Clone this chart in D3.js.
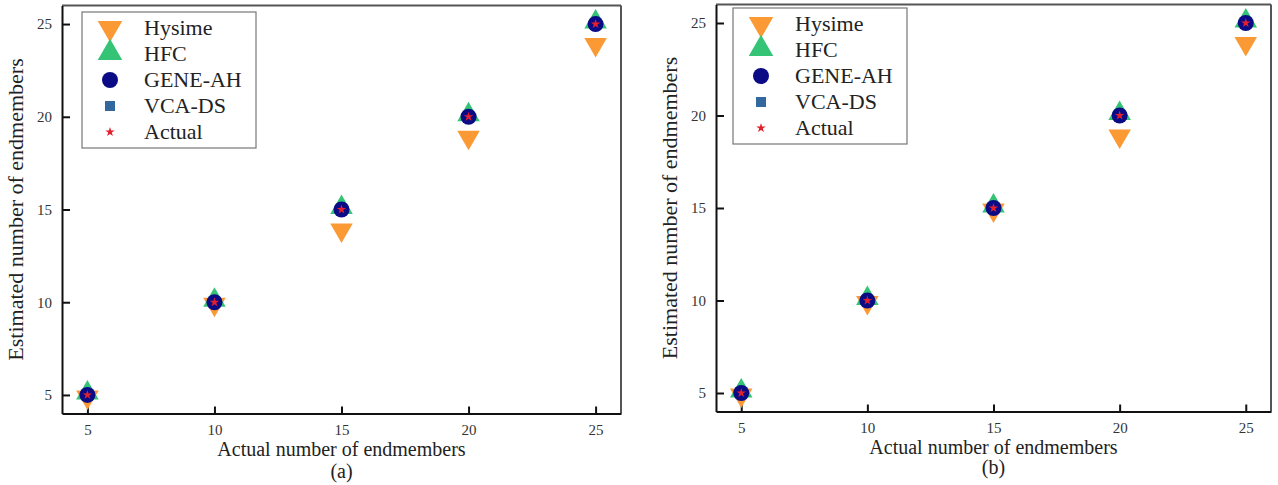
<!DOCTYPE html>
<html>
<head>
<meta charset="utf-8">
<script src="https://cdn.jsdelivr.net/npm/d3@7"></script>
<style>
  body { margin: 0; background: #fff; }
  svg { display: block; font-family: "Liberation Serif", "DejaVu Serif", serif; }
</style>
</head>
<body>
<div class="chart"></div>
<script>
var W = 1278, H = 485;

// data
var actual = [5, 10, 15, 20, 25];
var tickValues = [5, 10, 15, 20, 25];
var seriesNames = ["Hysime", "HFC", "GENE-AH", "VCA-DS", "Actual"];
var hysimeA = [5, 10, 14, 19, 24];
var hfcA = [5, 10, 15, 20, 25];
var geneA = [5, 10, 15, 20, 25];
var vcaA = [5, 10, 15, 20, 25];
var hysimeB = [5, 10, 15, 19, 24];
var hfcB = [5, 10, 15, 20, 25];
var geneB = [5, 10, 15, 20, 25];
var vcaB = [5, 10, 15, 20, 25];

var colors = { "Hysime": "#fb9a35", "HFC": "#35c476", "GENE-AH": "#0b0b85", "VCA-DS": "#33689f", "Actual": "#e2202e" };

var svg = d3.select(".chart").append("svg").attr("width", W).attr("height", H);

var tri = d3.symbol().type(d3.symbolTriangle).size(220);
var star = d3.symbol().type(d3.symbolStar).size(28);

function drawPanel(cfg) {
    var x = d3.scaleLinear().domain([4, 26]).range([cfg.left, cfg.right]);
    var y = d3.scaleLinear().domain([4, 26]).range([cfg.bottom, cfg.top]);
    var g = svg.append("g");

    // frame: top/right grey, left/bottom black
    g.append("line").attr("x1", cfg.left).attr("x2", cfg.right).attr("y1", cfg.top).attr("y2", cfg.top)
        .attr("stroke", "#555").attr("stroke-width", 2);
    g.append("line").attr("x1", cfg.right).attr("x2", cfg.right).attr("y1", cfg.top).attr("y2", cfg.bottom)
        .attr("stroke", "#555").attr("stroke-width", 2);

    var xAxis = g.append("g").attr("transform", `translate(0,${cfg.bottom})`)
        .call(d3.axisBottom(x).tickValues(tickValues).tickSizeInner(-7).tickSizeOuter(0).tickPadding(11));
    var yAxis = g.append("g").attr("transform", `translate(${cfg.left},0)`)
        .call(d3.axisLeft(y).tickValues(tickValues).tickSizeInner(-8).tickSizeOuter(0).tickPadding(10));
    [xAxis, yAxis].forEach(function(a) {
        a.select(".domain").attr("stroke", "#111").attr("stroke-width", 2);
        a.selectAll(".tick line").attr("stroke", "#111").attr("stroke-width", 2);
        a.selectAll(".tick text").attr("fill", "#333").style("font-size", "15px")
            .style("font-family", "Liberation Serif");
    });

    // markers, drawn in legend order
    var pts = function(vals) { return vals.map(function(v, i) { return { x: actual[i], y: v }; }); };
    g.selectAll(".hys").data(pts(cfg.hysime)).enter().append("path")
        .attr("d", tri)
        .attr("transform", function(d) { return `translate(${x(d.x)},${y(d.y) + 2}) rotate(180)`; })
        .attr("fill", colors["Hysime"]);
    g.selectAll(".hfc").data(pts(cfg.hfc)).enter().append("path")
        .attr("d", tri)
        .attr("transform", function(d) { return `translate(${x(d.x)},${y(d.y) - 2})`; })
        .attr("fill", colors["HFC"]);
    g.selectAll(".vca").data(pts(cfg.vca)).enter().append("rect")
        .attr("x", function(d) { return x(d.x) - 5; }).attr("y", function(d) { return y(d.y) - 5; })
        .attr("width", 10).attr("height", 10).attr("fill", colors["VCA-DS"]);
    g.selectAll(".gene").data(pts(cfg.gene)).enter().append("circle")
        .attr("cx", function(d) { return x(d.x); }).attr("cy", function(d) { return y(d.y); })
        .attr("r", 8).attr("fill", colors["GENE-AH"]);
    g.selectAll(".act").data(pts(actual)).enter().append("path")
        .attr("d", star)
        .attr("transform", function(d) { return `translate(${x(d.x)},${y(d.y)})`; })
        .attr("fill", colors["Actual"]);

    // legend
    var lg = g.append("g").attr("transform", `translate(${cfg.legX},${cfg.legY})`);
    lg.append("rect").attr("width", 174).attr("height", 136)
        .attr("fill", "#fff").attr("stroke", "#777").attr("stroke-width", 1.2);
    seriesNames.forEach(function(name, i) {
        var cy = 16 + i * 26, cx = 28;
        var row = lg.append("g");
        if (name == "Hysime") {
            row.append("path").attr("d", d3.symbol().type(d3.symbolTriangle).size(260))
                .attr("transform", `translate(${cx},${cy}) rotate(180)`).attr("fill", colors[name]);
        } else if (name == "HFC") {
            row.append("path").attr("d", d3.symbol().type(d3.symbolTriangle).size(260))
                .attr("transform", `translate(${cx},${cy - 1})`).attr("fill", colors[name]);
        } else if (name == "GENE-AH") {
            row.append("circle").attr("cx", cx).attr("cy", cy).attr("r", 8).attr("fill", colors[name]);
        } else if (name == "VCA-DS") {
            row.append("rect").attr("x", cx - 5).attr("y", cy - 5).attr("width", 10).attr("height", 10)
                .attr("fill", colors[name]);
        } else {
            row.append("path").attr("d", star).attr("transform", `translate(${cx},${cy})`)
                .attr("fill", colors[name]);
        }
        row.append("text").attr("x", 62).attr("y", cy + 7).text(name)
            .style("font-size", "22px").attr("fill", "#222");
    });

    // axis titles
    var mid = (cfg.left + cfg.right) / 2;
    g.append("text").attr("x", mid).attr("y", cfg.bottom + 42).attr("text-anchor", "middle")
        .style("font-size", "20px").attr("fill", "#222").text("Actual number of endmembers");
    g.append("text").attr("x", mid).attr("y", cfg.bottom + cfg.capGap).attr("text-anchor", "middle")
        .style("font-size", "20px").attr("fill", "#222").text(cfg.caption);
    g.append("text").attr("transform", `translate(${cfg.left - 39},${(cfg.top + cfg.bottom) / 2}) rotate(-90)`)
        .attr("text-anchor", "middle").style("font-size", "22px").attr("fill", "#222")
        .text("Estimated number of endmembers");
}

drawPanel({ left: 62, right: 621, top: 5.5, bottom: 413.5, legX: 82, legY: 12, caption: "(a)", capGap: 64,
    hysime: hysimeA, hfc: hfcA, gene: geneA, vca: vcaA });
drawPanel({ left: 716, right: 1271, top: 4.5, bottom: 411.5, legX: 733, legY: 8, caption: "(b)", capGap: 62,
    hysime: hysimeB, hfc: hfcB, gene: geneB, vca: vcaB });
</script>
</body>
</html>
